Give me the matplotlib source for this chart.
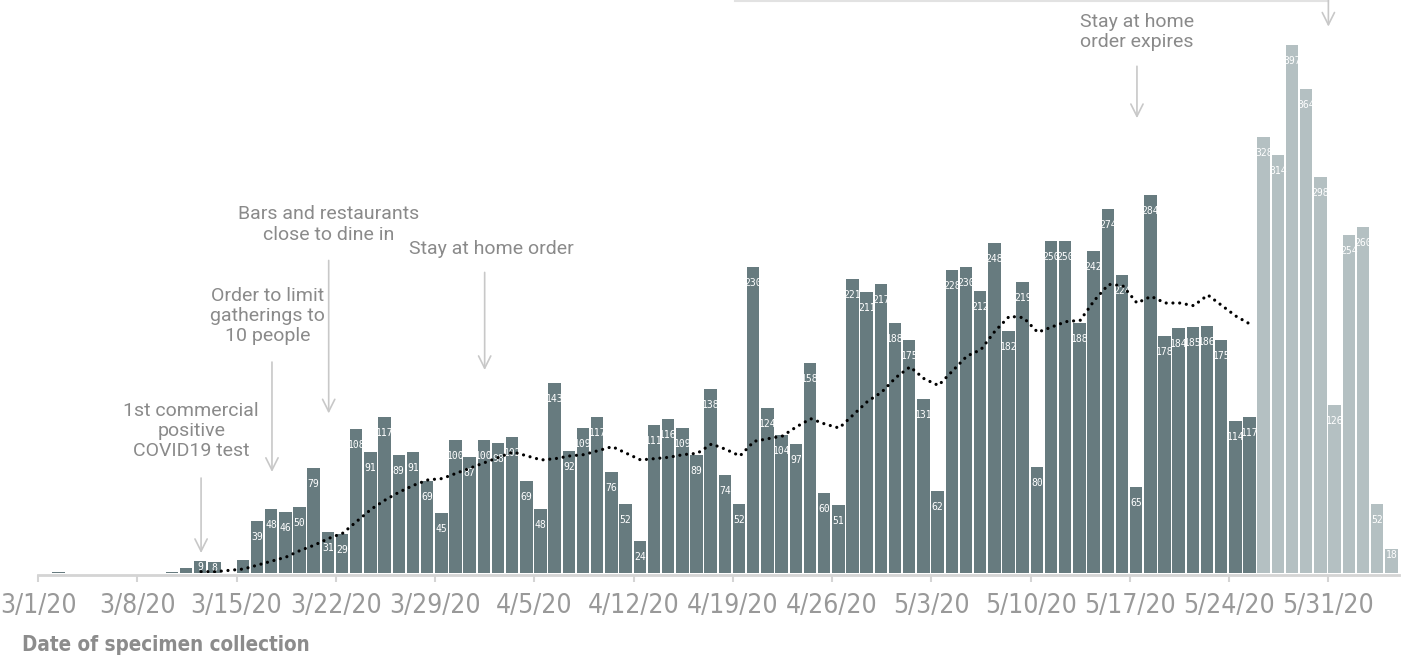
import numpy as np
import matplotlib
matplotlib.use('Agg')
import matplotlib.pyplot as plt
from matplotlib import font_manager
import pandas as pd

# daily positives by date of specimen collection, 3/1/20 .. 6/4/20
dates = pd.date_range('2020-03-01', '2020-06-04')
cases = [0, 1, 0, 0, 0, 0, 0, 0, 0, 1, 4, 9, 8, 0,
         10, 39, 48, 46, 50, 79, 31,
         29, 108, 91, 117, 89, 91, 69,
         45, 100, 87, 100, 98, 102, 69,
         48, 143, 92, 109, 117, 76, 52,
         24, 111, 116, 109, 89, 138, 74,
         52, 230, 124, 104, 97, 158, 60,
         51, 221, 211, 217, 188, 175, 131,
         62, 228, 230, 212, 248, 182, 219,
         80, 250, 250, 188, 242, 274, 224,
         65, 284, 178, 184, 185, 186, 175,
         114, 117, 328, 314, 397, 364, 298,
         126, 254, 260, 52, 18]
n_final = 86  # bars after this are still incomplete (lighter colour)

# moving average (3/12 .. 5/25)
avg_start = 11
avg = [1, 1, 2, 3, 6, 9, 12, 17, 21, 26,
       30, 39, 48, 55, 61, 66, 70, 71, 75, 79,
       83, 87, 91, 88, 85, 86, 88, 89, 92, 95,
       90, 85, 86, 87, 89, 90, 97, 93, 88, 99,
       101, 103, 110, 116, 112, 109, 119, 129, 136, 147,
       155, 146, 141, 152, 163, 168, 182, 193, 192, 181,
       185, 189, 190, 205, 217, 216, 203, 208, 203, 203,
       201, 209, 201, 193, 187]

dark = '#677b7f'
light = '#b4c0c2'
txt_grey = '#8a8a8a'
arrow_grey = '#c8c8c8'
sans = ['Roboto', 'DejaVu Sans']

# look for a condensed face for the axis texts, else fall back to Roboto
cond = None
for fam, st in [('DejaVu Sans', 'condensed'), ('Liberation Sans Narrow', 'normal')]:
    try:
        f = font_manager.findfont(font_manager.FontProperties(family=fam, stretch=st),
                                  fallback_to_default=False)
        if 'ondensed' in f or 'Narrow' in f:
            cond = (fam, st)
            break
    except Exception:
        pass
if cond:
    tick_font = dict(family=cond[0], fontstretch=cond[1], fontsize=19)
    xlab_font = dict(family=cond[0], fontstretch=cond[1], fontsize=14.8,
                     fontweight='bold')
else:
    tick_font = dict(family='Roboto', fontsize=15.5)
    xlab_font = dict(family='Roboto', fontsize=15, fontweight='medium')

W, H = 1407, 659
fig = plt.figure(figsize=(W / 100, H / 100), dpi=100)
base_px = 573
ppd = 14.18            # pixels per day
ppu = 1.33             # pixels per case
x0 = -38 / ppd
ax = fig.add_axes([0, (H - base_px) / H, 1, base_px / H])
ax.set_xlim(x0, x0 + W / ppd)
ax.set_ylim(0, base_px / ppu)

days = np.arange(len(cases))
colors = [dark if i < n_final else light for i in days]
ax.bar(days, cases, width=0.88, align='edge', color=colors, linewidth=0)

# value labels inside the bars
for i, v in enumerate(cases):
    if v < 8 or i == 14:
        continue
    off = 16 if v >= 20 else 6
    ax.annotate(str(v), xy=(i + 0.44, v), xytext=(0, -off * 0.72),
                textcoords='offset points', ha='center', va='center',
                color='white', fontsize=7, family='DejaVu Sans Mono')

# moving average
ax.plot(np.arange(avg_start, avg_start + len(avg)) + 0.5, avg, color='black',
        lw=2.3, linestyle=(0, (0.01, 2.1)), dash_capstyle='round', zorder=3)

# axis
for s in ['left', 'right', 'top']:
    ax.spines[s].set_visible(False)
ax.spines['bottom'].set_color('#d4d4d4')
ax.spines['bottom'].set_linewidth(2)
ax.spines['bottom'].set_bounds(0, len(cases))
ax.spines['bottom'].set_position(('outward', 1.5))
ticks = np.arange(0, len(cases), 7)
ax.set_xticks(ticks)
ax.set_xticklabels([f'{dates[t].month}/{dates[t].day}/20' for t in ticks],
                   color='#999999', **tick_font)
ax.tick_params(axis='x', length=5, width=1.5, color='#d4d4d4', pad=8)
ax.set_yticks([])

fig.text(22 / W, 1 - 645 / H, 'Date of specimen collection',
         color='#8c8c8c', ha='left', va='center', **xlab_font)

# event annotations
def arrow(x, y1, y2):
    ax.annotate('', xy=(x, y2), xytext=(x, y1),
                arrowprops=dict(arrowstyle='->', color=arrow_grey, lw=1.2,
                                mutation_scale=22, shrinkA=0, shrinkB=0),
                annotation_clip=False)

def note(x, y, s):
    ax.text(x, y, s, ha='center', va='center', family=sans, fontsize=14,
            color=txt_grey, linespacing=1.15)

note(10.8, 106.8, '1st commercial\npositive\nCOVID19 test')
arrow(11.5, 71.4, 15)
note(16.2, 193, 'Order to limit\ngatherings to\n10 people')
arrow(16.5, 158.6, 76)
note(20.5, 262, 'Bars and restaurants\nclose to dine in')
arrow(20.5, 235, 120)
note(32.0, 243.6, 'Stay at home order')
arrow(31.5, 226, 152.6)
note(77.5, 407, 'Stay at home\norder expires')
arrow(77.5, 381, 342)

# cut-off annotation at the top edge
top = base_px / ppu
ax.plot([(735 - 38) / ppd, 91], [top - 0.6, top - 0.6], color='#e2e2e2',
        lw=1.5, clip_on=False)
arrow(91, top, top - 20)

fig.savefig('out.png', dpi=100)
